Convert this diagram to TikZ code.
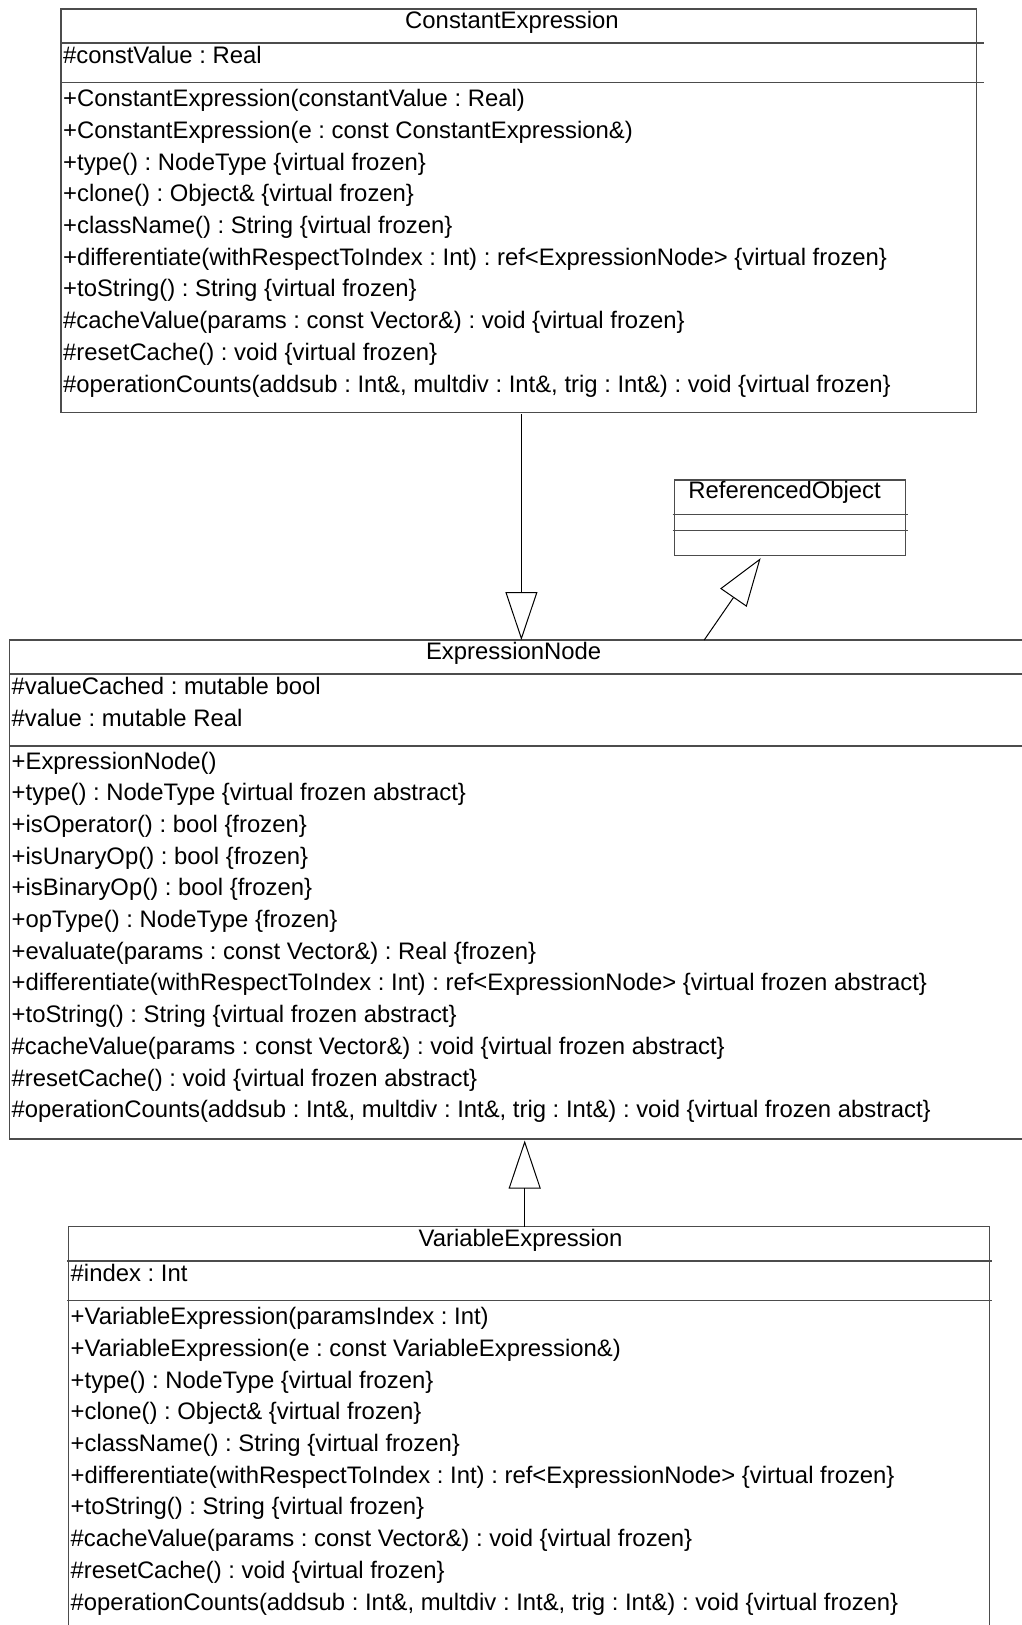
\documentclass[tikz,border=0pt]{standalone}
\usepackage{fontspec}
\setmainfont{Liberation Sans}
\usetikzlibrary{arrows.meta}
\frenchspacing

\tikzset{
	classbox/.style={draw=black!70, line width=1.4pt, anchor=north west, inner sep=0pt, outer sep=0pt},
	compline/.style={draw=black!70, line width=1.4pt},
	heading/.style={anchor=base, inner sep=0pt},
	member/.style={anchor=base west, inner sep=0pt},
	inherit/.style={line width=1pt, -{Triangle[open, length=48pt, width=32pt]}}
}

\begin{document}
\begin{tikzpicture}[x=1pt, y=-1pt, font=\fontsize{23.86}{28}\selectfont]
	\useasboundingbox (0,0) rectangle (1021,1625);

	% ConstantExpression
	\node[classbox, minimum width=915.5pt, minimum height=403.5pt] (constExpr) at (61,9) {};
	\draw[compline] (61,43) -- (984,43);
	\draw[compline] (61,82.5) -- (984,82.5);
	\node[heading] (ceName) at (512,28.5) {ConstantExpression};
	\node[member] (ceA1) at (63,63.3) {\#constValue : Real};
	\node[member] (ceM1) at (63,106.7) {+ConstantExpression(constantValue : Real)};
	\node[member] (ceM2) at (63,138.4) {+ConstantExpression(e : const ConstantExpression\&)};
	\node[member] (ceM3) at (63,170.1) {+type() : NodeType \{virtual frozen\}};
	\node[member] (ceM4) at (63,201.8) {+clone() : Object\& \{virtual frozen\}};
	\node[member] (ceM5) at (63,233.5) {+className() : String \{virtual frozen\}};
	\node[member] (ceM6) at (63,265.2) {+differentiate(withRespectToIndex : Int) : ref<ExpressionNode> \{virtual frozen\}};
	\node[member] (ceM7) at (63,296.9) {+toString() : String \{virtual frozen\}};
	\node[member] (ceM8) at (63,328.6) {\#cacheValue(params : const Vector\&) : void \{virtual frozen\}};
	\node[member] (ceM9) at (63,360.3) {\#resetCache() : void \{virtual frozen\}};
	\node[member] (ceM10) at (63,392) {\#operationCounts(addsub : Int\&, multdiv : Int\&, trig : Int\&) : void \{virtual frozen\}};

	% ReferencedObject
	\node[classbox, minimum width=231pt, minimum height=75.7pt] (refObj) at (674.3,480) {};
	\draw[compline] (672.5,514.3) -- (908,514.3);
	\draw[compline] (672.5,530.3) -- (908,530.3);
	\node[heading] (roName) at (784.6,498.5) {ReferencedObject};

	% ExpressionNode
	\node[classbox, minimum width=1020pt, minimum height=499pt] (exprNode) at (9.5,640) {};
	\draw[compline] (9.5,674) -- (1030,674);
	\draw[compline] (9.5,746) -- (1030,746);
	\node[heading] (enName) at (513.6,659.5) {ExpressionNode};
	\node[member] (enA1) at (11.5,694.6) {\#valueCached : mutable bool};
	\node[member] (enA2) at (11.5,726.3) {\#value : mutable Real};
	\node[member] (enM1) at (11.5,769) {+ExpressionNode()};
	\node[member] (enM2) at (11.5,800.7) {+type() : NodeType \{virtual frozen abstract\}};
	\node[member] (enM3) at (11.5,832.4) {+isOperator() : bool \{frozen\}};
	\node[member] (enM4) at (11.5,864.1) {+isUnaryOp() : bool \{frozen\}};
	\node[member] (enM5) at (11.5,895.8) {+isBinaryOp() : bool \{frozen\}};
	\node[member] (enM6) at (11.5,927.5) {+opType() : NodeType \{frozen\}};
	\node[member] (enM7) at (11.5,959.2) {+evaluate(params : const Vector\&) : Real \{frozen\}};
	\node[member] (enM8) at (11.5,990.9) {+differentiate(withRespectToIndex : Int) : ref<ExpressionNode> \{virtual frozen abstract\}};
	\node[member] (enM9) at (11.5,1022.6) {+toString() : String \{virtual frozen abstract\}};
	\node[member] (enM10) at (11.5,1054.3) {\#cacheValue(params : const Vector\&) : void \{virtual frozen abstract\}};
	\node[member] (enM11) at (11.5,1086) {\#resetCache() : void \{virtual frozen abstract\}};
	\node[member] (enM12) at (11.5,1117.7) {\#operationCounts(addsub : Int\&, multdiv : Int\&, trig : Int\&) : void \{virtual frozen abstract\}};

	% VariableExpression
	\node[classbox, minimum width=920.8pt, minimum height=500pt] (varExpr) at (68.4,1226.7) {};
	\draw[compline] (67,1261) -- (991.5,1261);
	\draw[compline] (67,1300.7) -- (991.5,1300.7);
	\node[heading] (veName) at (520.6,1246.2) {VariableExpression};
	\node[member] (veA1) at (70.5,1281.6) {\#index : Int};
	\node[member] (veM1) at (70.5,1324.7) {+VariableExpression(paramsIndex : Int)};
	\node[member] (veM2) at (70.5,1356.4) {+VariableExpression(e : const VariableExpression\&)};
	\node[member] (veM3) at (70.5,1388.1) {+type() : NodeType \{virtual frozen\}};
	\node[member] (veM4) at (70.5,1419.8) {+clone() : Object\& \{virtual frozen\}};
	\node[member] (veM5) at (70.5,1451.5) {+className() : String \{virtual frozen\}};
	\node[member] (veM6) at (70.5,1483.2) {+differentiate(withRespectToIndex : Int) : ref<ExpressionNode> \{virtual frozen\}};
	\node[member] (veM7) at (70.5,1514.9) {+toString() : String \{virtual frozen\}};
	\node[member] (veM8) at (70.5,1546.6) {\#cacheValue(params : const Vector\&) : void \{virtual frozen\}};
	\node[member] (veM9) at (70.5,1578.3) {\#resetCache() : void \{virtual frozen\}};
	\node[member] (veM10) at (70.5,1610) {\#operationCounts(addsub : Int\&, multdiv : Int\&, trig : Int\&) : void \{virtual frozen\}};

	% generalisations
	\coordinate (ceTail) at (521.4,0);
	\coordinate (roTail) at (704.2,0);
	\coordinate (roTip) at (760.6,0);
	\coordinate (veTail) at (524.7,0);
	\draw[inherit] ([yshift=-1.5pt]constExpr.south -| ceTail) -- (exprNode.north -| ceTail);
	\draw[inherit] (exprNode.north -| roTail) -- ([yshift=-2.5pt]refObj.south -| roTip);
	\draw[inherit] (varExpr.north -| veTail) -- ([yshift=-1.5pt]exprNode.south -| veTail);
\end{tikzpicture}
\end{document}
